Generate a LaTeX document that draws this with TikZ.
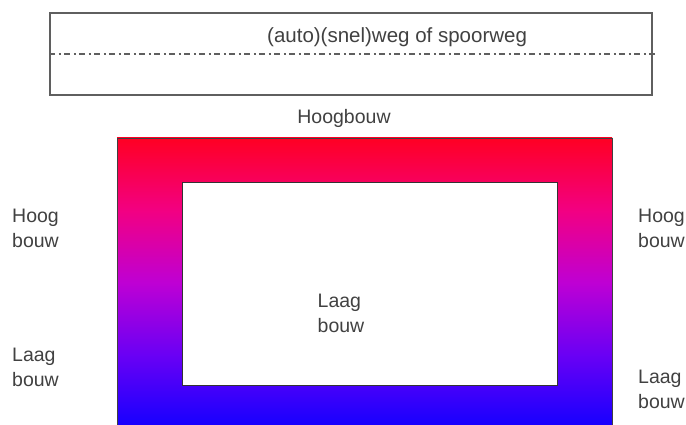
\documentclass[tikz,border=0pt]{standalone}
\usepackage{fontspec}
\setmainfont{Liberation Sans}
\definecolor{txtgray}{RGB}{65,65,65}
\definecolor{linegray}{RGB}{95,95,95}
\pgfdeclareverticalshading{zonegrad}{100bp}{%
  color(0bp)=(rgb,255:red,20;green,0;blue,255);
  color(25bp)=(rgb,255:red,20;green,0;blue,255);
  color(37.5bp)=(rgb,255:red,105;green,0;blue,245);
  color(50bp)=(rgb,255:red,190;green,0;blue,212);
  color(62.5bp)=(rgb,255:red,242;green,0;blue,130);
  color(75bp)=(rgb,255:red,255;green,0;blue,35);
  color(100bp)=(rgb,255:red,255;green,0;blue,35)}
\begin{document}
\begin{tikzpicture}[x=1pt,y=-1pt,
  lbl/.style={text=txtgray,font=\fontsize{19.5}{25}\selectfont,inner sep=0pt,align=left},
  roadbox/.style={draw=linegray,line width=1.3pt,minimum width=602pt,minimum height=82pt,inner sep=0pt},
  axis/.style={draw=linegray,line width=1.4pt,dash pattern=on 6pt off 3.5pt on 2pt off 3.5pt},
  zone/.style={draw=black!75,line width=0.9pt,shading=zonegrad,minimum width=495pt,minimum height=290pt,inner sep=0pt},
  core/.style={draw=black!80,line width=1pt,fill=white,minimum width=375pt,minimum height=202pt,inner sep=0pt}]
\useasboundingbox (0,0) rectangle (686,425);
\fill[white] (0,0) rectangle (686,425);
% road
\node[roadbox] (road) at (351,54) {};
\coordinate (axisend) at (656,54);
\draw[axis] (road.west) -- (axisend);
\node[lbl,font=\fontsize{20.5}{25}\selectfont,anchor=base west] (roadtxt) at (267,43) {(auto)(snel)weg of spoorweg};
% zones
\node[zone] (outer) at (364.5,283) {};
\node[core] (inner) at (369.5,284) {};
% labels
\node[lbl,anchor=base] (hoogtop) at (344,124) {Hoogbouw};
\node[lbl,anchor=west] (hoogL) at (12,228.5) {Hoog\\bouw};
\node[lbl,anchor=west] (laagL) at (12,367.5) {Laag\\bouw};
\node[lbl,anchor=west] (hoogR) at (638,228.5) {Hoog\\bouw};
\node[lbl,anchor=west] (laagR) at (638,389.5) {Laag\\bouw};
\node[lbl,anchor=center] (laagC) at (341,313.5) {Laag\\bouw};
\end{tikzpicture}
\end{document}
